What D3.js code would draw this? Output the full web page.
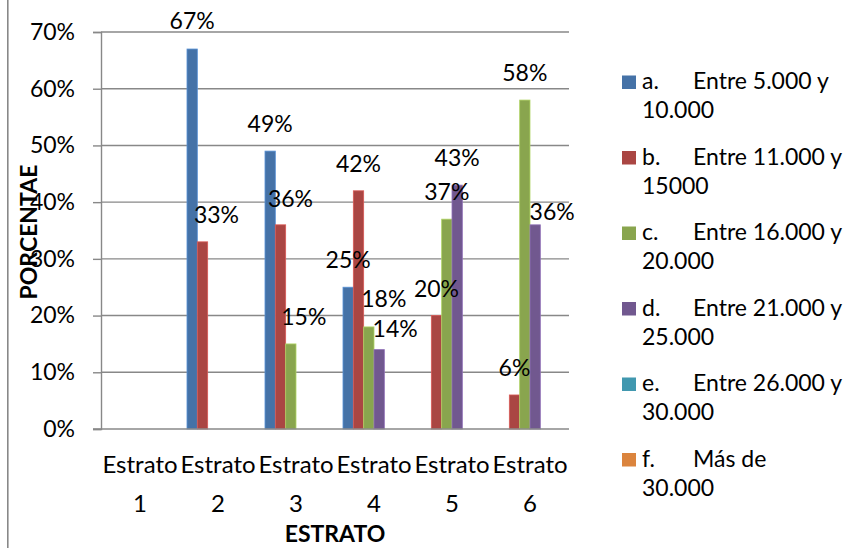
<!DOCTYPE html>
<html>
<head>
<meta charset="utf-8">
<script src="https://cdn.jsdelivr.net/npm/d3@7/dist/d3.min.js"></script>
<style>
  html, body { margin: 0; padding: 0; background: #fff; }
  svg { display: block; }
  text { font-family: Lato, "Open Sans", sans-serif; fill: #000; }
</style>
</head>
<body>
<svg id="chart" width="849" height="548"></svg>
<script>
// Categories along the x axis
const categories = ["Estrato 1", "Estrato 2", "Estrato 3", "Estrato 4", "Estrato 5", "Estrato 6"];

// Income brackets (series names)
const seriesNames = [
  "a. Entre 5.000 y 10.000",
  "b. Entre 11.000 y 15000",
  "c. Entre 16.000 y 20.000",
  "d. Entre 21.000 y 25.000",
  "e. Entre 26.000 y 30.000",
  "f. Más de 30.000"
];

// Percentage of each bracket within each stratum (null = no bar)
const serieA = [null, 0.67, 0.49, 0.25, null, null];
const serieB = [null, 0.33, 0.36, 0.42, 0.20, 0.06];
const serieC = [null, null, 0.15, 0.18, 0.37, 0.58];
const serieD = [null, null, null, 0.14, 0.43, 0.36];
const serieE = [null, null, null, null, null, null];
const serieF = [null, null, null, null, null, null];

// Y axis tick values
const yTicks = [0, 0.1, 0.2, 0.3, 0.4, 0.5, 0.6, 0.7];

const seriesValues = [serieA, serieB, serieC, serieD, serieE, serieF];
const colors = ["#4572A7", "#AA4643", "#89A54E", "#71588F", "#4198AF", "#DB843D"];

// Hand-placed data labels: [dx, dy] shifts keyed by series index and category index
const labelShift = {
  "1-1": [14, 0],
  "1-2": [10, 1],
  "2-2": [13, 0],
  "0-1": [0, -1],
  "2-3": [15, -1],
  "3-3": [16, 6],
  "3-5": [17, 14]
};

const svg = d3.select("#chart");
const plotLeft = 101, plotRight = 569, plotTop = 32, plotBottom = 429;
const grid = "#888888";

// Outer frame line on the left edge
svg.append("line")
  .attr("x1", 7.8).attr("x2", 7.8).attr("y1", 0).attr("y2", 548)
  .attr("stroke", grid).attr("stroke-width", 1.6);

const y = d3.scaleLinear().domain([0, 0.7]).range([plotBottom, plotTop]);
const x = d3.scaleBand().domain(categories).range([plotLeft, plotRight])
  .paddingInner(0.205).paddingOuter(0.1025);
const xs = d3.scaleBand().domain(d3.range(seriesNames.length)).range([0, x.bandwidth()]);

// Gridlines
svg.append("g").selectAll("line").data(yTicks.filter(d => d > 0)).join("line")
  .attr("x1", plotLeft).attr("x2", plotRight)
  .attr("y1", d => y(d)).attr("y2", d => y(d))
  .attr("stroke", grid).attr("stroke-width", 1.4);

// Y axis
const yAxis = svg.append("g").attr("transform", `translate(${plotLeft},0)`)
  .call(d3.axisLeft(y).tickValues(yTicks).tickFormat(d3.format(".0%")).tickSize(8).tickPadding(18));
yAxis.select(".domain").attr("stroke", grid).attr("stroke-width", 1.4);
yAxis.selectAll(".tick line").attr("stroke", grid).attr("stroke-width", 1.4);
yAxis.selectAll(".tick text").attr("font-size", 23).attr("font-family", "Lato").attr("fill", "#000");

// Bars
const bars = [];
seriesValues.forEach((vals, s) => vals.forEach((v, c) => {
  if (v !== null) bars.push({ s, c, v });
}));

svg.append("g").selectAll("rect").data(bars).join("rect")
  .attr("x", d => x(categories[d.c]) + xs(d.s))
  .attr("width", xs.bandwidth())
  .attr("y", d => y(d.v))
  .attr("height", d => y(0) - y(d.v))
  .attr("fill", d => colors[d.s])
  .attr("stroke", d => d3.color(colors[d.s]).brighter(0.7))
  .attr("stroke-width", 0.8);

// X axis line
svg.append("line")
  .attr("x1", plotLeft - 8).attr("x2", plotRight).attr("y1", plotBottom).attr("y2", plotBottom)
  .attr("stroke", grid).attr("stroke-width", 1.4);

// Category labels (two lines each)
const xl = svg.append("g").selectAll("text").data(categories).join("text")
  .attr("text-anchor", "middle").attr("font-size", 24);
xl.each(function (d) {
  const parts = d.split(" ");
  const cx = x(d) + x.bandwidth() / 2;
  d3.select(this).append("tspan").attr("x", cx).attr("y", 473).text(parts[0]);
  d3.select(this).append("tspan").attr("x", cx).attr("y", 512).text(parts[1]);
});

// Data labels
svg.append("g").selectAll("text").data(bars).join("text")
  .attr("text-anchor", "middle").attr("font-size", 23)
  .attr("x", d => x(categories[d.c]) + xs(d.s) + xs.bandwidth() / 2 + (labelShift[d.s + "-" + d.c] || [0, 0])[0])
  .attr("y", d => y(d.v) - 19 + (labelShift[d.s + "-" + d.c] || [0, 0])[1])
  .text(d => d3.format(".0%")(d.v));

// Axis titles
svg.append("text")
  .attr("x", (plotLeft + plotRight) / 2).attr("y", 542)
  .attr("text-anchor", "middle").attr("font-size", 23).attr("font-weight", "bold")
  .text("ESTRATO");

svg.append("text")
  .attr("transform", "translate(37,232) rotate(-90)")
  .attr("text-anchor", "middle").attr("font-size", 23).attr("font-weight", "bold")
  .text("PORCENTAE");

// Legend
const legend = svg.append("g").selectAll("g").data(seriesNames).join("g")
  .attr("transform", (d, i) => `translate(622,${89 + i * 75.5})`);
legend.append("rect")
  .attr("x", 0).attr("y", -13.5).attr("width", 14).attr("height", 13.5)
  .attr("fill", (d, i) => colors[i]);
legend.each(function (d) {
  const parts = d.split(" ");
  const prefix = parts.shift();
  const last = parts.pop();
  const g = d3.select(this);
  g.append("text").attr("x", 20).attr("y", 0).attr("font-size", 23).text(prefix);
  g.append("text").attr("x", 71).attr("y", 0).attr("font-size", 23).text(parts.join(" "));
  g.append("text").attr("x", 20).attr("y", 29).attr("font-size", 23).text(last);
});
</script>
</body>
</html>
